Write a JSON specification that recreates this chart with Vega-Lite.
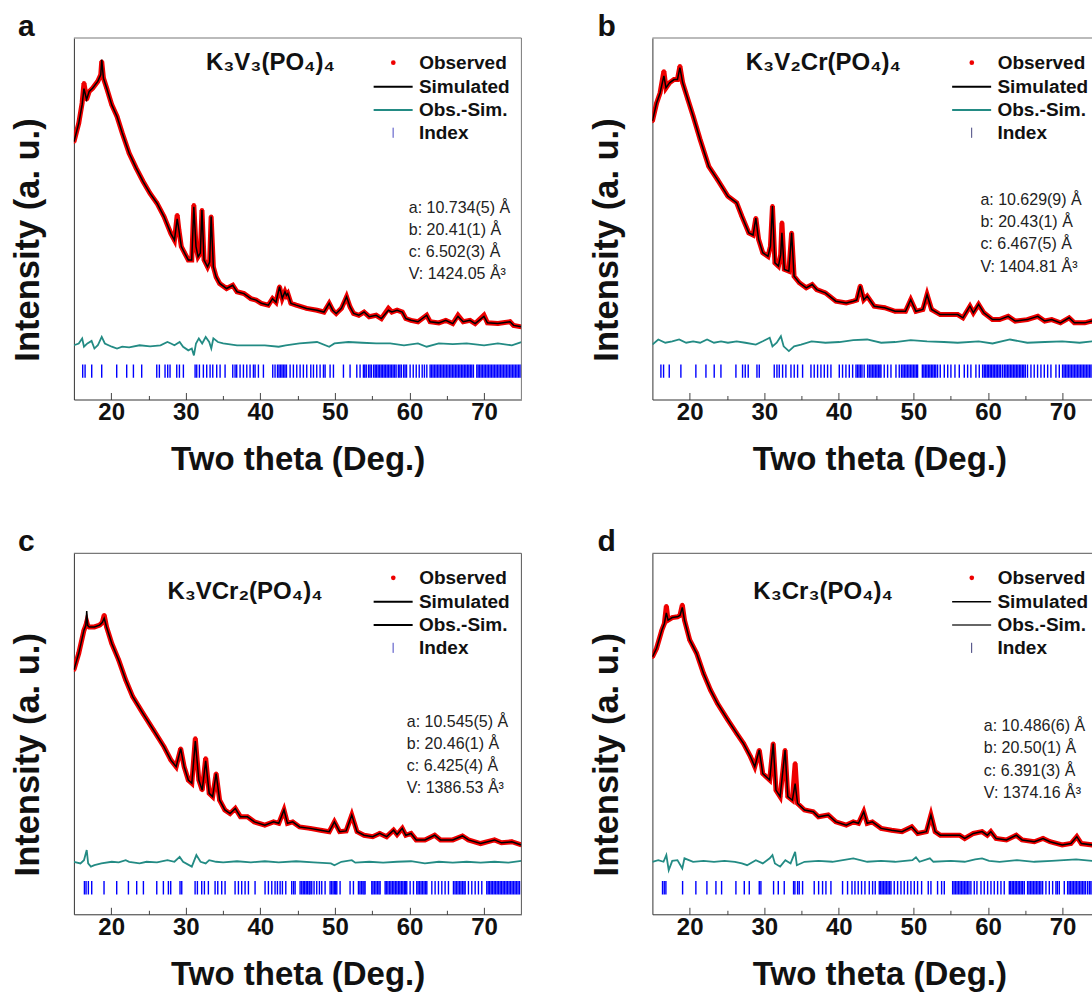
{
"$schema": "https://vega.github.io/schema/vega-lite/v6.json",
"background": "white",
"padding": {"left": 9.9, "top": 11, "right": 0, "bottom": 0},
"config": {"font": "Liberation Sans", "axis": {"grid": false}, "view": {"stroke": null}, "legend": {"labelFont": "Liberation Sans", "orient": "none", "title": null, "padding": 0, "labelFontSize": 19, "labelFontWeight": "bold", "labelColor": "#111111", "labelLimit": 300, "rowPadding": 3.3}},
"datasets": {
"a": [
{"t":15.0,"obs":71.3,"sim":71.3},{"t":15.65,"obs":76.4,"sim":76.4},{"t":16.1,"obs":82.0,"sim":81.5},{"t":16.35,"obs":87.5,"sim":86.0},{"t":16.7,"obs":83.0,"sim":83.0},{"t":17.05,"obs":85.2,"sim":85.2},{"t":17.5,"obs":86.1,"sim":86.1},{"t":18.2,"obs":88.0,"sim":88.0},{"t":18.6,"obs":89.8,"sim":89.8},{"t":18.73,"obs":93.5,"sim":94.0},{"t":18.96,"obs":88.9,"sim":88.9},{"t":19.4,"obs":86.1,"sim":86.1},{"t":20.08,"obs":81.5,"sim":81.5},{"t":20.78,"obs":78.3,"sim":78.3},{"t":21.48,"obs":73.7,"sim":73.7},{"t":22.41,"obs":68.1,"sim":68.1},{"t":23.35,"obs":64.0,"sim":64.0},{"t":24.28,"obs":60.3,"sim":60.3},{"t":25.21,"obs":57.0,"sim":57.0},{"t":26.14,"obs":54.3,"sim":54.3},{"t":27.08,"obs":50.6,"sim":50.6},{"t":28.01,"obs":45.9,"sim":45.9},{"t":28.48,"obs":44.1,"sim":44.1},{"t":28.85,"obs":51.0,"sim":50.0},{"t":29.08,"obs":46.9,"sim":46.9},{"t":29.4,"obs":42.3,"sim":42.3},{"t":29.87,"obs":40.4,"sim":40.4},{"t":30.34,"obs":38.6,"sim":38.6},{"t":30.8,"obs":38.6,"sim":38.6},{"t":31.08,"obs":53.8,"sim":53.3},{"t":31.37,"obs":42.3,"sim":42.3},{"t":31.65,"obs":39.5,"sim":39.5},{"t":31.95,"obs":40.5,"sim":40.5},{"t":32.17,"obs":52.4,"sim":52.4},{"t":32.45,"obs":38.6,"sim":38.6},{"t":32.92,"obs":36.7,"sim":36.7},{"t":33.2,"obs":38.0,"sim":38.0},{"t":33.4,"obs":50.6,"sim":50.6},{"t":33.7,"obs":36.7,"sim":36.7},{"t":34.07,"obs":33.9,"sim":33.9},{"t":34.54,"obs":32.1,"sim":32.1},{"t":35.47,"obs":30.7,"sim":30.7},{"t":36.3,"obs":31.6,"sim":31.6},{"t":36.87,"obs":29.8,"sim":29.8},{"t":37.8,"obs":29.3,"sim":29.3},{"t":38.73,"obs":27.9,"sim":27.9},{"t":39.43,"obs":27.5,"sim":27.5},{"t":40.13,"obs":26.6,"sim":26.6},{"t":41.07,"obs":26.1,"sim":26.1},{"t":41.63,"obs":27.9,"sim":27.9},{"t":42.1,"obs":26.9,"sim":26.9},{"t":42.57,"obs":31.2,"sim":31.2},{"t":42.94,"obs":28.0,"sim":28.0},{"t":43.3,"obs":29.8,"sim":29.8},{"t":43.5,"obs":28.8,"sim":28.8},{"t":43.68,"obs":29.3,"sim":29.3},{"t":44.1,"obs":26.6,"sim":26.6},{"t":44.8,"obs":26.1,"sim":26.1},{"t":46.2,"obs":25.2,"sim":25.2},{"t":47.6,"obs":24.7,"sim":24.7},{"t":48.53,"obs":24.2,"sim":24.2},{"t":49.23,"obs":26.6,"sim":26.6},{"t":49.7,"obs":24.7,"sim":24.7},{"t":50.17,"obs":23.8,"sim":23.8},{"t":50.87,"obs":25.2,"sim":25.2},{"t":51.56,"obs":28.4,"sim":28.4},{"t":52.03,"obs":25.6,"sim":25.6},{"t":52.5,"obs":23.8,"sim":23.8},{"t":53.2,"obs":23.3,"sim":23.3},{"t":53.9,"obs":24.2,"sim":24.2},{"t":54.6,"obs":22.9,"sim":22.9},{"t":55.53,"obs":23.3,"sim":23.3},{"t":56.23,"obs":22.4,"sim":22.4},{"t":57.17,"obs":25.2,"sim":24.7},{"t":57.63,"obs":24.2,"sim":24.2},{"t":58.33,"obs":24.7,"sim":24.7},{"t":59.03,"obs":24.2,"sim":24.2},{"t":59.5,"obs":22.4,"sim":22.4},{"t":60.2,"obs":21.9,"sim":21.9},{"t":61.13,"obs":21.5,"sim":21.5},{"t":62.3,"obs":23.3,"sim":23.3},{"t":62.76,"obs":21.5,"sim":21.5},{"t":63.93,"obs":21.2,"sim":21.2},{"t":64.86,"obs":21.9,"sim":21.9},{"t":65.8,"obs":21.0,"sim":21.0},{"t":66.5,"obs":23.3,"sim":23.0},{"t":67.2,"obs":21.5,"sim":21.5},{"t":68.1,"obs":21.9,"sim":21.9},{"t":68.8,"obs":21.0,"sim":21.0},{"t":69.98,"obs":23.3,"sim":23.0},{"t":70.45,"obs":21.2,"sim":21.2},{"t":71.85,"obs":21.0,"sim":21.0},{"t":73.48,"obs":21.5,"sim":21.5},{"t":73.95,"obs":20.5,"sim":20.5},{"t":75.0,"obs":20.1,"sim":20.1}
],
"a_d": [
{"t":15.0,"d":15.0},{"t":15.65,"d":15.5},{"t":16.11,"d":16.9},{"t":16.35,"d":14.6},{"t":16.81,"d":15.5},{"t":17.37,"d":16.2},{"t":17.75,"d":14.1},{"t":18.21,"d":15.0},{"t":18.73,"d":17.3},{"t":19.15,"d":15.5},{"t":20.08,"d":14.6},{"t":20.78,"d":14.1},{"t":21.48,"d":14.6},{"t":22.41,"d":14.4},{"t":23.81,"d":15.0},{"t":25.21,"d":14.7},{"t":26.61,"d":15.0},{"t":27.54,"d":15.9},{"t":28.01,"d":15.5},{"t":28.48,"d":15.0},{"t":29.18,"d":15.9},{"t":29.64,"d":14.6},{"t":30.34,"d":13.6},{"t":30.81,"d":14.1},{"t":31.09,"d":12.2},{"t":31.37,"d":15.5},{"t":31.75,"d":16.9},{"t":32.2,"d":15.5},{"t":32.67,"d":17.3},{"t":33.14,"d":15.9},{"t":33.42,"d":14.1},{"t":33.7,"d":16.9},{"t":34.31,"d":15.9},{"t":35.01,"d":15.5},{"t":36.87,"d":15.0},{"t":38.73,"d":15.0},{"t":40.6,"d":15.0},{"t":42.46,"d":14.6},{"t":43.4,"d":15.0},{"t":45.26,"d":15.5},{"t":47.6,"d":15.9},{"t":49.23,"d":14.6},{"t":49.93,"d":15.5},{"t":51.8,"d":15.9},{"t":53.66,"d":15.7},{"t":55.53,"d":15.5},{"t":57.4,"d":15.5},{"t":59.26,"d":15.0},{"t":61.13,"d":15.5},{"t":62.3,"d":14.6},{"t":63.93,"d":15.5},{"t":65.8,"d":15.3},{"t":67.66,"d":15.5},{"t":70.0,"d":15.0},{"t":71.85,"d":15.5},{"t":73.72,"d":15.0},{"t":75.0,"d":15.9}
],
"a_i": [
{"t":16.18},{"t":16.5},{"t":17.39},{"t":18.73},{"t":20.74},{"t":22.08},{"t":22.98},{"t":24.09},{"t":26.11},{"t":26.46},{"t":27.22},{"t":27.58},{"t":27.89},{"t":28.79},{"t":29.15},{"t":29.68},{"t":31.25},{"t":31.47},{"t":31.83},{"t":32.36},{"t":32.81},{"t":33.26},{"t":33.62},{"t":34.15},{"t":34.6},{"t":35.27},{"t":36.3},{"t":36.61},{"t":36.83},{"t":37.28},{"t":37.73},{"t":38.18},{"t":38.62},{"t":39.07},{"t":39.29},{"t":39.74},{"t":40.41},{"t":41.66},{"t":41.97},{"t":42.3},{"t":42.5},{"t":42.7},{"t":42.9},{"t":43.1},{"t":43.3},{"t":43.5},{"t":43.99},{"t":44.43},{"t":44.88},{"t":45.33},{"t":45.77},{"t":46.22},{"t":46.76},{"t":47.12},{"t":47.56},{"t":48.01},{"t":48.46},{"t":48.68},{"t":49.35},{"t":49.8},{"t":51.14},{"t":52.03},{"t":52.93},{"t":53.37},{"t":53.82},{"t":54.0},{"t":54.2},{"t":54.5},{"t":54.7},{"t":54.9},{"t":55.2},{"t":55.4},{"t":55.6},{"t":55.8},{"t":56.0},{"t":56.2},{"t":56.4},{"t":56.6},{"t":56.8},{"t":57.0},{"t":57.2},{"t":57.4},{"t":57.6},{"t":57.8},{"t":58.0},{"t":58.2},{"t":58.5},{"t":58.7},{"t":58.9},{"t":59.2},{"t":59.4},{"t":59.6},{"t":60.08},{"t":60.5},{"t":60.9},{"t":61.3},{"t":61.7},{"t":62.0},{"t":62.32},{"t":62.76},{"t":62.95},{"t":63.15},{"t":63.35},{"t":63.55},{"t":63.75},{"t":63.95},{"t":64.15},{"t":64.35},{"t":64.55},{"t":64.75},{"t":64.95},{"t":65.15},{"t":65.35},{"t":65.55},{"t":65.75},{"t":65.95},{"t":66.15},{"t":66.35},{"t":66.55},{"t":66.75},{"t":66.95},{"t":67.15},{"t":67.35},{"t":67.55},{"t":67.75},{"t":67.95},{"t":68.15},{"t":68.35},{"t":68.57},{"t":69.02},{"t":69.2},{"t":69.4},{"t":69.6},{"t":69.8},{"t":70.0},{"t":70.2},{"t":70.4},{"t":70.6},{"t":70.8},{"t":71.0},{"t":71.2},{"t":71.4},{"t":71.6},{"t":71.8},{"t":72.0},{"t":72.2},{"t":72.4},{"t":72.6},{"t":72.8},{"t":73.0},{"t":73.2},{"t":73.4},{"t":73.6},{"t":73.8},{"t":74.0},{"t":74.2},{"t":74.4},{"t":74.6},{"t":74.8},{"t":75.0}
],
"b": [
{"t":15.0,"obs":77.0,"sim":77.0},{"t":15.56,"obs":82.0,"sim":82.0},{"t":16.03,"obs":84.8,"sim":84.8},{"t":16.54,"obs":90.8,"sim":89.5},{"t":16.82,"obs":86.2,"sim":86.2},{"t":17.29,"obs":87.6,"sim":87.6},{"t":17.9,"obs":88.5,"sim":88.5},{"t":18.36,"obs":88.5,"sim":88.5},{"t":18.69,"obs":92.2,"sim":91.8},{"t":19.06,"obs":87.6,"sim":87.6},{"t":19.76,"obs":83.0,"sim":83.0},{"t":20.46,"obs":78.4,"sim":78.4},{"t":21.4,"obs":71.9,"sim":71.9},{"t":22.56,"obs":64.5,"sim":64.5},{"t":23.73,"obs":60.8,"sim":60.8},{"t":25.13,"obs":56.2,"sim":56.2},{"t":26.3,"obs":54.4,"sim":54.4},{"t":27.0,"obs":50.7,"sim":50.7},{"t":27.93,"obs":46.1,"sim":46.1},{"t":28.5,"obs":45.5,"sim":45.5},{"t":28.87,"obs":50.2,"sim":50.2},{"t":29.24,"obs":44.3,"sim":44.3},{"t":29.8,"obs":40.6,"sim":40.6},{"t":30.5,"obs":39.6,"sim":39.6},{"t":30.83,"obs":42.4,"sim":42.4},{"t":31.1,"obs":53.5,"sim":53.5},{"t":31.43,"obs":37.8,"sim":37.8},{"t":31.9,"obs":36.9,"sim":36.9},{"t":32.2,"obs":40.0,"sim":40.0},{"t":32.37,"obs":48.9,"sim":46.1},{"t":32.69,"obs":36.0,"sim":36.0},{"t":33.3,"obs":35.5,"sim":35.5},{"t":33.67,"obs":46.1,"sim":46.1},{"t":34.0,"obs":34.1,"sim":34.1},{"t":34.7,"obs":32.3,"sim":32.3},{"t":35.63,"obs":30.9,"sim":30.9},{"t":36.43,"obs":31.8,"sim":31.8},{"t":37.04,"obs":30.4,"sim":30.4},{"t":38.2,"obs":29.5,"sim":29.5},{"t":39.6,"obs":27.2,"sim":27.2},{"t":41.0,"obs":26.7,"sim":26.7},{"t":41.94,"obs":27.2,"sim":27.2},{"t":42.4,"obs":27.5,"sim":27.5},{"t":42.87,"obs":31.4,"sim":31.4},{"t":43.34,"obs":27.6,"sim":27.6},{"t":43.8,"obs":28.6,"sim":28.6},{"t":44.74,"obs":25.8,"sim":25.8},{"t":46.14,"obs":25.4,"sim":25.4},{"t":47.54,"obs":24.4,"sim":24.4},{"t":48.94,"obs":24.4,"sim":24.4},{"t":49.64,"obs":27.6,"sim":27.6},{"t":50.34,"obs":24.4,"sim":24.4},{"t":51.27,"obs":24.9,"sim":24.9},{"t":51.83,"obs":29.0,"sim":29.0},{"t":52.44,"obs":24.9,"sim":24.9},{"t":53.6,"obs":23.5,"sim":23.5},{"t":55.0,"obs":23.5,"sim":23.5},{"t":55.94,"obs":23.5,"sim":23.5},{"t":56.64,"obs":22.6,"sim":22.6},{"t":57.58,"obs":25.8,"sim":25.8},{"t":58.04,"obs":24.0,"sim":24.0},{"t":58.74,"obs":26.3,"sim":26.3},{"t":59.44,"obs":24.0,"sim":24.0},{"t":60.61,"obs":22.1,"sim":22.1},{"t":61.54,"obs":22.1,"sim":22.1},{"t":62.71,"obs":23.0,"sim":23.0},{"t":63.65,"obs":21.7,"sim":21.7},{"t":65.28,"obs":22.1,"sim":22.1},{"t":66.68,"obs":23.0,"sim":23.0},{"t":67.61,"obs":21.7,"sim":21.7},{"t":68.55,"obs":22.1,"sim":22.1},{"t":69.72,"obs":21.2,"sim":21.2},{"t":70.88,"obs":22.6,"sim":22.6},{"t":71.58,"obs":21.2,"sim":21.2},{"t":72.98,"obs":21.2,"sim":21.2},{"t":73.92,"obs":21.7,"sim":21.7},{"t":75.0,"obs":21.3,"sim":21.3}
],
"b_d": [
{"t":15.0,"d":15.2},{"t":15.79,"d":16.6},{"t":16.73,"d":15.7},{"t":17.66,"d":16.1},{"t":18.59,"d":16.6},{"t":19.53,"d":15.7},{"t":20.46,"d":16.1},{"t":21.4,"d":15.7},{"t":22.33,"d":16.6},{"t":23.26,"d":15.7},{"t":24.2,"d":16.1},{"t":25.13,"d":15.7},{"t":26.3,"d":16.1},{"t":27.46,"d":15.7},{"t":28.87,"d":15.2},{"t":29.8,"d":16.1},{"t":30.73,"d":17.1},{"t":31.1,"d":14.7},{"t":31.67,"d":15.7},{"t":32.23,"d":17.5},{"t":32.6,"d":14.7},{"t":33.3,"d":13.4},{"t":34.0,"d":14.7},{"t":34.93,"d":15.2},{"t":36.34,"d":16.1},{"t":38.2,"d":15.7},{"t":40.07,"d":15.9},{"t":41.94,"d":16.4},{"t":43.8,"d":16.6},{"t":45.67,"d":15.7},{"t":47.54,"d":15.9},{"t":49.64,"d":16.4},{"t":51.83,"d":16.1},{"t":54.08,"d":15.9},{"t":55.94,"d":15.7},{"t":58.74,"d":16.1},{"t":60.61,"d":15.5},{"t":62.95,"d":16.6},{"t":65.28,"d":15.7},{"t":67.61,"d":15.9},{"t":69.95,"d":16.1},{"t":72.28,"d":15.7},{"t":74.06,"d":16.1}
],
"b_i": [
{"t":16.14},{"t":16.5},{"t":17.26},{"t":18.82},{"t":20.83},{"t":22.18},{"t":23.29},{"t":24.19},{"t":26.2},{"t":27.09},{"t":27.45},{"t":27.85},{"t":29.02},{"t":29.33},{"t":31.34},{"t":31.7},{"t":32.01},{"t":32.46},{"t":32.9},{"t":33.58},{"t":34.02},{"t":34.47},{"t":35.14},{"t":36.26},{"t":36.7},{"t":37.15},{"t":37.6},{"t":38.05},{"t":38.49},{"t":38.94},{"t":40.06},{"t":40.5},{"t":40.95},{"t":41.4},{"t":41.85},{"t":42.3},{"t":42.5},{"t":42.7},{"t":42.9},{"t":43.1},{"t":43.4},{"t":43.86},{"t":44.08},{"t":44.3},{"t":44.5},{"t":44.7},{"t":44.9},{"t":45.1},{"t":45.3},{"t":45.5},{"t":45.65},{"t":46.09},{"t":46.54},{"t":46.99},{"t":47.66},{"t":48.1},{"t":48.4},{"t":48.6},{"t":48.8},{"t":49.0},{"t":49.2},{"t":49.4},{"t":49.6},{"t":49.8},{"t":50.0},{"t":50.2},{"t":50.4},{"t":50.56},{"t":51.2},{"t":51.4},{"t":51.6},{"t":51.8},{"t":52.0},{"t":52.2},{"t":52.4},{"t":52.6},{"t":52.8},{"t":53.0},{"t":53.24},{"t":53.6},{"t":54.14},{"t":54.6},{"t":55.03},{"t":55.57},{"t":56.15},{"t":56.82},{"t":57.27},{"t":57.71},{"t":58.38},{"t":58.83},{"t":59.28},{"t":59.5},{"t":59.7},{"t":59.9},{"t":60.1},{"t":60.3},{"t":60.5},{"t":60.7},{"t":60.9},{"t":61.1},{"t":61.3},{"t":61.5},{"t":61.7},{"t":61.96},{"t":62.2},{"t":62.4},{"t":62.6},{"t":62.8},{"t":63.0},{"t":63.2},{"t":63.4},{"t":63.6},{"t":63.8},{"t":64.0},{"t":64.2},{"t":64.4},{"t":64.6},{"t":64.8},{"t":65.0},{"t":65.3},{"t":65.76},{"t":66.2},{"t":66.65},{"t":67.1},{"t":67.55},{"t":68.0},{"t":68.44},{"t":69.11},{"t":69.56},{"t":70.0},{"t":70.2},{"t":70.4},{"t":70.6},{"t":70.8},{"t":71.0},{"t":71.2},{"t":71.4},{"t":71.6},{"t":71.8},{"t":72.0},{"t":72.2},{"t":72.4},{"t":72.6},{"t":72.8},{"t":73.0},{"t":73.2},{"t":73.4},{"t":73.6},{"t":73.8},{"t":74.0}
],
"c": [
{"t":15.0,"obs":67.7,"sim":67.7},{"t":15.65,"obs":72.3,"sim":72.3},{"t":16.35,"obs":78.7,"sim":78.7},{"t":16.6,"obs":80.0,"sim":80.0},{"t":16.72,"obs":81.0,"sim":84.0},{"t":16.85,"obs":80.0,"sim":80.0},{"t":17.05,"obs":79.6,"sim":79.6},{"t":17.75,"obs":79.6,"sim":79.6},{"t":18.45,"obs":80.1,"sim":80.1},{"t":18.8,"obs":80.8,"sim":80.8},{"t":19.06,"obs":82.9,"sim":82.0},{"t":19.38,"obs":79.6,"sim":79.6},{"t":20.08,"obs":75.0,"sim":75.0},{"t":21.01,"obs":70.4,"sim":70.4},{"t":21.95,"obs":64.9,"sim":64.9},{"t":22.88,"obs":60.3,"sim":60.3},{"t":24.28,"obs":55.6,"sim":55.6},{"t":25.68,"obs":51.0,"sim":51.0},{"t":27.08,"obs":46.4,"sim":46.4},{"t":28.01,"obs":42.7,"sim":42.7},{"t":28.71,"obs":40.9,"sim":40.9},{"t":29.32,"obs":45.9,"sim":45.9},{"t":29.78,"obs":40.9,"sim":40.9},{"t":30.34,"obs":37.2,"sim":37.2},{"t":30.81,"obs":36.3,"sim":36.3},{"t":31.28,"obs":48.7,"sim":48.0},{"t":31.75,"obs":37.2,"sim":37.2},{"t":32.2,"obs":34.4,"sim":34.4},{"t":32.67,"obs":43.2,"sim":42.5},{"t":33.14,"obs":33.5,"sim":33.5},{"t":33.6,"obs":32.6,"sim":32.6},{"t":34.07,"obs":39.0,"sim":39.0},{"t":34.54,"obs":31.6,"sim":31.6},{"t":35.24,"obs":28.9,"sim":28.9},{"t":35.94,"obs":27.9,"sim":27.9},{"t":36.64,"obs":29.3,"sim":29.3},{"t":37.34,"obs":27.0,"sim":27.0},{"t":38.27,"obs":27.0,"sim":27.0},{"t":39.2,"obs":25.6,"sim":25.6},{"t":40.6,"obs":24.7,"sim":24.7},{"t":41.77,"obs":25.6,"sim":25.6},{"t":42.47,"obs":25.2,"sim":25.2},{"t":43.17,"obs":28.9,"sim":28.9},{"t":43.64,"obs":25.2,"sim":25.2},{"t":44.34,"obs":25.6,"sim":25.6},{"t":45.27,"obs":24.2,"sim":24.2},{"t":46.67,"obs":23.8,"sim":23.8},{"t":48.07,"obs":23.3,"sim":23.3},{"t":49.23,"obs":22.9,"sim":22.9},{"t":49.93,"obs":25.6,"sim":25.6},{"t":50.63,"obs":22.9,"sim":22.9},{"t":51.5,"obs":23.1,"sim":23.1},{"t":52.26,"obs":27.5,"sim":27.5},{"t":52.96,"obs":22.9,"sim":22.9},{"t":53.9,"obs":21.9,"sim":21.9},{"t":55.06,"obs":21.5,"sim":21.5},{"t":56.0,"obs":22.4,"sim":22.4},{"t":56.93,"obs":21.5,"sim":21.5},{"t":57.86,"obs":23.3,"sim":23.3},{"t":58.33,"obs":22.1,"sim":22.1},{"t":59.03,"obs":23.8,"sim":23.8},{"t":59.5,"obs":21.9,"sim":21.9},{"t":60.2,"obs":22.4,"sim":22.4},{"t":60.9,"obs":20.6,"sim":20.6},{"t":62.07,"obs":20.6,"sim":20.6},{"t":63.37,"obs":21.9,"sim":21.9},{"t":64.16,"obs":20.6,"sim":20.6},{"t":65.8,"obs":20.6,"sim":20.6},{"t":67.1,"obs":21.7,"sim":21.7},{"t":67.9,"obs":20.6,"sim":20.6},{"t":69.53,"obs":19.6,"sim":19.6},{"t":71.4,"obs":20.6,"sim":20.6},{"t":72.33,"obs":19.8,"sim":19.8},{"t":73.72,"obs":20.1,"sim":20.1},{"t":75.0,"obs":19.2,"sim":19.2}
],
"c_d": [
{"t":15.0,"d":14.55},{"t":15.88,"d":14.1},{"t":16.35,"d":15.0},{"t":16.72,"d":17.8},{"t":16.91,"d":14.1},{"t":17.28,"d":13.2},{"t":17.75,"d":13.6},{"t":18.68,"d":14.1},{"t":20.08,"d":14.55},{"t":21.01,"d":14.4},{"t":21.95,"d":15.0},{"t":22.41,"d":14.55},{"t":23.81,"d":14.1},{"t":24.74,"d":14.55},{"t":26.14,"d":14.4},{"t":27.54,"d":15.0},{"t":28.48,"d":14.55},{"t":29.18,"d":15.9},{"t":29.64,"d":14.55},{"t":30.81,"d":13.2},{"t":31.42,"d":16.4},{"t":31.98,"d":14.55},{"t":32.67,"d":14.1},{"t":33.14,"d":15.0},{"t":34.07,"d":14.55},{"t":35.01,"d":14.4},{"t":36.87,"d":14.7},{"t":38.73,"d":14.4},{"t":40.6,"d":14.7},{"t":42.46,"d":14.4},{"t":44.8,"d":14.7},{"t":47.13,"d":14.4},{"t":49.46,"d":14.1},{"t":49.93,"d":13.6},{"t":50.86,"d":14.55},{"t":52.26,"d":15.0},{"t":52.73,"d":14.3},{"t":54.6,"d":14.55},{"t":56.46,"d":14.3},{"t":58.33,"d":14.55},{"t":60.2,"d":14.7},{"t":62.06,"d":14.1},{"t":63.93,"d":14.55},{"t":65.8,"d":14.3},{"t":67.66,"d":14.55},{"t":69.53,"d":14.3},{"t":71.39,"d":14.55},{"t":73.26,"d":14.3},{"t":75.0,"d":14.8}
],
"c_i": [
{"t":16.41},{"t":16.63},{"t":16.94},{"t":17.39},{"t":19.04},{"t":20.74},{"t":22.31},{"t":23.42},{"t":24.32},{"t":26.11},{"t":27.0},{"t":27.67},{"t":27.98},{"t":29.23},{"t":29.46},{"t":31.25},{"t":31.56},{"t":32.14},{"t":32.5},{"t":33.03},{"t":33.93},{"t":34.29},{"t":34.82},{"t":35.27},{"t":36.61},{"t":37.06},{"t":37.5},{"t":37.95},{"t":38.4},{"t":39.29},{"t":40.63},{"t":41.08},{"t":41.53},{"t":41.97},{"t":42.29},{"t":42.65},{"t":42.96},{"t":43.41},{"t":44.2},{"t":44.45},{"t":44.66},{"t":45.33},{"t":45.55},{"t":45.75},{"t":45.95},{"t":46.15},{"t":46.35},{"t":46.55},{"t":46.67},{"t":46.89},{"t":47.2},{"t":47.56},{"t":47.92},{"t":48.23},{"t":48.68},{"t":49.35},{"t":49.55},{"t":49.75},{"t":49.95},{"t":50.1},{"t":50.25},{"t":50.69},{"t":52.03},{"t":52.48},{"t":53.15},{"t":53.35},{"t":53.55},{"t":53.75},{"t":53.9},{"t":54.04},{"t":54.94},{"t":55.1},{"t":55.3},{"t":55.5},{"t":55.7},{"t":55.9},{"t":56.06},{"t":56.73},{"t":56.9},{"t":57.1},{"t":57.3},{"t":57.5},{"t":57.7},{"t":57.9},{"t":58.1},{"t":58.3},{"t":58.5},{"t":58.7},{"t":58.9},{"t":59.1},{"t":59.3},{"t":59.45},{"t":59.63},{"t":60.08},{"t":60.53},{"t":60.97},{"t":61.15},{"t":61.35},{"t":61.55},{"t":61.75},{"t":61.95},{"t":62.15},{"t":62.32},{"t":62.99},{"t":63.43},{"t":63.88},{"t":64.33},{"t":64.77},{"t":65.22},{"t":65.89},{"t":66.1},{"t":66.3},{"t":66.5},{"t":66.7},{"t":66.9},{"t":67.1},{"t":67.3},{"t":67.46},{"t":67.9},{"t":68.35},{"t":68.8},{"t":69.24},{"t":69.69},{"t":70.36},{"t":70.55},{"t":70.75},{"t":70.95},{"t":71.15},{"t":71.35},{"t":71.55},{"t":71.75},{"t":71.95},{"t":72.15},{"t":72.35},{"t":72.55},{"t":72.75},{"t":72.95},{"t":73.15},{"t":73.35},{"t":73.55},{"t":73.75},{"t":73.95},{"t":74.15},{"t":74.35},{"t":74.55},{"t":74.75}
],
"d": [
{"t":15.0,"obs":71.3,"sim":71.3},{"t":15.56,"obs":73.7,"sim":73.7},{"t":16.26,"obs":78.7,"sim":78.7},{"t":16.6,"obs":80.5,"sim":80.5},{"t":16.87,"obs":85.4,"sim":83.5},{"t":17.1,"obs":81.5,"sim":81.5},{"t":17.66,"obs":82.2,"sim":82.2},{"t":18.36,"obs":82.4,"sim":82.4},{"t":18.7,"obs":82.8,"sim":82.8},{"t":19.01,"obs":85.7,"sim":85.0},{"t":19.3,"obs":81.5,"sim":81.5},{"t":20.0,"obs":76.0,"sim":76.0},{"t":20.93,"obs":72.3,"sim":72.3},{"t":21.86,"obs":66.7,"sim":66.7},{"t":22.8,"obs":62.1,"sim":62.1},{"t":23.73,"obs":58.4,"sim":58.4},{"t":25.13,"obs":53.8,"sim":53.8},{"t":26.3,"obs":50.1,"sim":50.1},{"t":27.23,"obs":47.3,"sim":47.3},{"t":28.17,"obs":43.6,"sim":43.6},{"t":28.73,"obs":40.9,"sim":40.9},{"t":29.33,"obs":45.5,"sim":45.5},{"t":29.8,"obs":39.0,"sim":39.0},{"t":30.73,"obs":37.2,"sim":37.2},{"t":31.2,"obs":47.3,"sim":47.3},{"t":31.57,"obs":34.4,"sim":34.4},{"t":32.13,"obs":32.6,"sim":32.6},{"t":32.79,"obs":45.5,"sim":45.5},{"t":33.16,"obs":32.6,"sim":32.6},{"t":33.77,"obs":31.6,"sim":31.6},{"t":34.14,"obs":41.8,"sim":36.2},{"t":34.47,"obs":30.7,"sim":30.7},{"t":35.4,"obs":28.9,"sim":28.9},{"t":36.57,"obs":28.4,"sim":28.4},{"t":37.27,"obs":27.0,"sim":27.0},{"t":38.58,"obs":27.5,"sim":27.5},{"t":39.6,"obs":25.6,"sim":25.6},{"t":41.0,"obs":24.7,"sim":24.7},{"t":41.94,"obs":25.6,"sim":25.6},{"t":42.64,"obs":25.2,"sim":25.2},{"t":43.34,"obs":28.4,"sim":28.4},{"t":43.8,"obs":25.2,"sim":25.2},{"t":44.5,"obs":25.6,"sim":25.6},{"t":45.67,"obs":23.8,"sim":23.8},{"t":47.07,"obs":23.3,"sim":23.3},{"t":48.47,"obs":22.9,"sim":22.9},{"t":49.78,"obs":24.2,"sim":24.2},{"t":50.57,"obs":22.4,"sim":22.4},{"t":51.74,"obs":22.9,"sim":22.9},{"t":52.35,"obs":27.5,"sim":27.5},{"t":52.91,"obs":22.9,"sim":22.9},{"t":53.61,"obs":21.9,"sim":21.9},{"t":55.01,"obs":21.9,"sim":21.9},{"t":56.18,"obs":21.9,"sim":21.9},{"t":56.88,"obs":21.0,"sim":21.0},{"t":58.05,"obs":22.4,"sim":22.4},{"t":59.21,"obs":22.9,"sim":22.9},{"t":59.91,"obs":21.9,"sim":21.9},{"t":60.38,"obs":22.9,"sim":22.9},{"t":61.08,"obs":21.0,"sim":21.0},{"t":62.48,"obs":20.6,"sim":20.6},{"t":63.79,"obs":21.9,"sim":21.9},{"t":64.58,"obs":20.6,"sim":20.6},{"t":66.21,"obs":20.1,"sim":20.1},{"t":67.38,"obs":21.0,"sim":21.0},{"t":68.32,"obs":20.1,"sim":20.1},{"t":69.95,"obs":19.2,"sim":19.2},{"t":71.12,"obs":19.6,"sim":19.6},{"t":71.91,"obs":21.5,"sim":21.5},{"t":72.52,"obs":19.6,"sim":19.6},{"t":74.06,"obs":19.2,"sim":19.2},{"t":75.0,"obs":19.0,"sim":19.0}
],
"d_d": [
{"t":15.0,"d":14.55},{"t":15.79,"d":15.0},{"t":16.49,"d":14.55},{"t":16.87,"d":16.4},{"t":17.19,"d":12.2},{"t":17.66,"d":14.8},{"t":18.36,"d":15.0},{"t":19.01,"d":12.7},{"t":19.3,"d":15.5},{"t":20.46,"d":14.55},{"t":21.86,"d":14.8},{"t":23.26,"d":14.55},{"t":24.66,"d":14.8},{"t":26.06,"d":14.55},{"t":27.0,"d":14.1},{"t":27.7,"d":13.6},{"t":28.87,"d":15.0},{"t":29.8,"d":14.1},{"t":30.73,"d":15.5},{"t":31.1,"d":16.4},{"t":31.43,"d":14.1},{"t":32.13,"d":13.2},{"t":32.83,"d":15.0},{"t":33.53,"d":14.1},{"t":34.14,"d":17.3},{"t":34.37,"d":13.6},{"t":35.4,"d":14.55},{"t":37.27,"d":14.8},{"t":39.14,"d":14.55},{"t":41.94,"d":15.5},{"t":43.8,"d":14.55},{"t":45.67,"d":14.8},{"t":47.54,"d":14.55},{"t":49.87,"d":15.0},{"t":50.34,"d":15.8},{"t":50.81,"d":14.55},{"t":52.21,"d":15.5},{"t":52.68,"d":14.55},{"t":55.01,"d":14.8},{"t":56.88,"d":14.55},{"t":58.28,"d":15.2},{"t":59.21,"d":15.5},{"t":60.15,"d":14.8},{"t":61.55,"d":14.55},{"t":63.88,"d":15.0},{"t":66.21,"d":14.55},{"t":68.55,"d":14.8},{"t":71.82,"d":15.2},{"t":74.06,"d":14.8}
],
"d_i": [
{"t":16.36},{"t":16.59},{"t":16.81},{"t":19.05},{"t":20.83},{"t":22.31},{"t":23.52},{"t":24.28},{"t":26.2},{"t":27.32},{"t":27.99},{"t":29.33},{"t":29.55},{"t":31.25},{"t":31.88},{"t":32.68},{"t":33.93},{"t":34.11},{"t":34.47},{"t":34.69},{"t":35.14},{"t":36.7},{"t":37.29},{"t":37.82},{"t":38.27},{"t":38.94},{"t":40.5},{"t":41.17},{"t":41.76},{"t":42.16},{"t":42.6},{"t":43.05},{"t":43.5},{"t":44.08},{"t":44.53},{"t":44.88},{"t":45.42},{"t":45.6},{"t":45.8},{"t":46.0},{"t":46.2},{"t":46.4},{"t":46.6},{"t":46.8},{"t":46.99},{"t":47.43},{"t":47.88},{"t":48.33},{"t":48.77},{"t":49.22},{"t":49.67},{"t":50.12},{"t":50.56},{"t":51.1},{"t":51.99},{"t":52.35},{"t":53.24},{"t":53.78},{"t":54.14},{"t":55.26},{"t":55.45},{"t":55.65},{"t":55.85},{"t":56.05},{"t":56.25},{"t":56.45},{"t":56.65},{"t":56.85},{"t":57.05},{"t":57.25},{"t":57.45},{"t":57.71},{"t":58.16},{"t":58.52},{"t":59.06},{"t":59.5},{"t":59.95},{"t":60.4},{"t":60.84},{"t":61.29},{"t":61.74},{"t":62.18},{"t":62.86},{"t":63.05},{"t":63.25},{"t":63.45},{"t":63.65},{"t":63.85},{"t":64.05},{"t":64.25},{"t":64.45},{"t":64.65},{"t":64.87},{"t":65.31},{"t":65.5},{"t":65.7},{"t":65.9},{"t":66.1},{"t":66.3},{"t":66.5},{"t":66.7},{"t":66.9},{"t":67.1},{"t":67.33},{"t":67.77},{"t":68.22},{"t":68.67},{"t":69.11},{"t":69.3},{"t":69.56},{"t":70.23},{"t":70.68},{"t":70.88},{"t":71.08},{"t":71.28},{"t":71.48},{"t":71.68},{"t":71.88},{"t":72.08},{"t":72.28},{"t":72.48},{"t":72.68},{"t":72.88},{"t":73.08},{"t":73.36},{"t":73.6},{"t":73.8},{"t":74.0}
]
},
"columns": 2,
"spacing": {"row": 153.3, "column": 130.5},
"bounds": "flush",
"resolve": {"scale": {"x": "independent", "y": "independent", "fill": "independent", "stroke": "independent", "strokeDash": "independent"}, "axis": {"x": "independent", "y": "independent"}, "legend": {"fill": "independent", "stroke": "independent", "strokeDash": "independent"}},
"concat": [
{
"width": 447.5, "height": 361.5,
"title": {"text": "a", "anchor": "start", "frame": "group", "dx": -56, "dy": 31.5, "offset": 3.5, "baseline": "alphabetic", "fontSize": 30, "fontWeight": "bold", "color": "#111111"},
"layer": [
{"data": {"name": "a"}, "mark": {"type": "line", "color": "#ee0000", "strokeWidth": 5, "clip": true},
 "encoding": {
  "x": {"field": "t", "type": "quantitative", "scale": {"domain": [15, 75], "nice": false, "zero": false},
   "axis": {"values": [20,25,30,35,40,45,50,55,60,65,70], "labelExpr": "datum.value % 10 === 0 ? datum.label : ''", "tickSize": {"condition": {"test": "datum.value % 10 === 0", "value": -7}, "value": -4}, "tickColor": "#444444", "domainColor": "#333333", "labelFontSize": 24, "labelFontWeight": "bold", "labelColor": "#111111", "labelBaseline": "top", "labelPadding": 8, "title": "Two theta (Deg.)", "titleFontSize": 33, "titleFontWeight": "bold", "titleColor": "#111111", "titleBaseline": "alphabetic", "titleY": 70, "grid": false}},
  "y": {"field": "obs", "type": "quantitative", "scale": {"domain": [0, 100], "nice": false, "zero": false},
   "axis": {"title": "Intensity (a. u.)", "ticks": false, "labels": false, "domainColor": "#333333", "grid": false, "titleFontSize": 34.5, "titleFontWeight": "bold", "titleColor": "#111111", "titleAngle": -90, "titleBaseline": "alphabetic", "titleAlign": "center", "titleX": -35.2, "titleY": 201.5}}
 }},
{"data": {"name": "a"}, "mark": {"type": "point", "filled": true, "size": 18, "opacity": 1, "clip": true},
 "encoding": {"x": {"field": "t", "type": "quantitative"}, "y": {"field": "obs", "type": "quantitative"},
  "fill": {"datum": "Observed", "type": "nominal", "scale": {"domain": ["Observed"], "range": ["#ee0000"]},
   "legend": {"legendX": 309.9, "legendY": 15.2, "symbolType": "circle", "symbolSize": 22, "symbolStrokeWidth": 0, "labelOffset": 16.4}}}},
{"data": {"name": "a"}, "mark": {"type": "line", "strokeWidth": 1.5, "clip": true},
 "encoding": {"x": {"field": "t", "type": "quantitative"}, "y": {"field": "sim", "type": "quantitative"},
  "stroke": {"datum": "Simulated", "type": "nominal", "scale": {"domain": ["Simulated", "Obs.-Sim."], "range": ["#000000", "#238b84"]},
   "legend": {"legendX": 309.75, "legendY": 39.2, "symbolType": "M-3.9,0L3.9,0", "symbolSize": 100, "symbolStrokeWidth": 2, "labelOffset": 16.25}}}},
{"data": {"name": "a_d"}, "mark": {"type": "line", "strokeWidth": 1.8, "clip": true},
 "encoding": {"x": {"field": "t", "type": "quantitative"}, "y": {"field": "d", "type": "quantitative"}, "stroke": {"datum": "Obs.-Sim.", "type": "nominal"}}},
{"data": {"name": "a_i"}, "mark": {"type": "rule", "strokeWidth": 1.4, "color": "#0000ff", "clip": true},
 "encoding": {"x": {"field": "t", "type": "quantitative"}, "y": {"datum": 6.0}, "y2": {"datum": 9.7},
  "strokeDash": {"datum": "Index", "type": "nominal", "scale": {"domain": ["Index"], "range": [[1, 0]]},
   "legend": {"legendX": 309.75, "legendY": 85.2, "symbolType": "M0,-1L0,1", "symbolSize": 100, "symbolStrokeWidth": 1, "symbolStrokeColor": "#3333bb", "labelOffset": 16.25}}}},
{"data": {"values": [{}]}, "mark": {"type": "rule", "color": "#777777", "strokeWidth": 1}, "encoding": {"y": {"datum": 100}}},
{"data": {"values": [{}]}, "mark": {"type": "rule", "color": "#777777", "strokeWidth": 1}, "encoding": {"x": {"datum": 75}}},
{"data": {"values": [{"f": "K₃V₃(PO₄)₄"}]}, "mark": {"type": "text", "fontSize": 24, "fontWeight": "bold", "align": "center", "baseline": "alphabetic", "color": "#111111"},
 "encoding": {"x": {"datum": 41.35}, "y": {"datum": 91.1}, "text": {"field": "f"}}},
{"data": {"values": [{}]}, "mark": {"type": "text", "fontSize": 16, "align": "left", "baseline": "alphabetic", "lineHeight": 22.3, "color": "#222222"},
 "encoding": {"x": {"datum": 59.9}, "y": {"datum": 51.7}, "text": {"value": ["a: 10.734(5) Å", "b: 20.41(1) Å", "c: 6.502(3) Å", "V: 1424.05 Å³"]}}}
]
},
{
"width": 440, "height": 361.5,
"title": {"text": "b", "anchor": "start", "frame": "group", "dx": -55, "dy": 31.5, "offset": 3.5, "baseline": "alphabetic", "fontSize": 30, "fontWeight": "bold", "color": "#111111"},
"layer": [
{"data": {"name": "b"}, "mark": {"type": "line", "color": "#ee0000", "strokeWidth": 5, "clip": true},
 "encoding": {
  "x": {"field": "t", "type": "quantitative", "scale": {"domain": [15, 74], "nice": false, "zero": false},
   "axis": {"values": [20,25,30,35,40,45,50,55,60,65,70], "labelExpr": "datum.value % 10 === 0 ? datum.label : ''", "tickSize": {"condition": {"test": "datum.value % 10 === 0", "value": -7}, "value": -4}, "tickColor": "#444444", "domainColor": "#333333", "labelFontSize": 24, "labelFontWeight": "bold", "labelColor": "#111111", "labelBaseline": "top", "labelPadding": 8, "title": "Two theta (Deg.)", "titleFontSize": 33, "titleFontWeight": "bold", "titleColor": "#111111", "titleBaseline": "alphabetic", "titleY": 70, "titleX": 227, "grid": false}},
  "y": {"field": "obs", "type": "quantitative", "scale": {"domain": [0, 100], "nice": false, "zero": false},
   "axis": {"title": "Intensity (a. u.)", "ticks": false, "labels": false, "domainColor": "#333333", "grid": false, "titleFontSize": 34.5, "titleFontWeight": "bold", "titleColor": "#111111", "titleAngle": -90, "titleBaseline": "alphabetic", "titleAlign": "center", "titleX": -35, "titleY": 201.5}}
 }},
{"data": {"name": "b"}, "mark": {"type": "point", "filled": true, "size": 18, "opacity": 1, "clip": true},
 "encoding": {"x": {"field": "t", "type": "quantitative"}, "y": {"field": "obs", "type": "quantitative"},
  "fill": {"datum": "Observed", "type": "nominal", "scale": {"domain": ["Observed"], "range": ["#ee0000"]},
   "legend": {"legendX": 309.9, "legendY": 15.2, "symbolType": "circle", "symbolSize": 22, "symbolStrokeWidth": 0, "labelOffset": 16.4}}}},
{"data": {"name": "b"}, "mark": {"type": "line", "strokeWidth": 1.5, "clip": true},
 "encoding": {"x": {"field": "t", "type": "quantitative"}, "y": {"field": "sim", "type": "quantitative"},
  "stroke": {"datum": "Simulated", "type": "nominal", "scale": {"domain": ["Simulated", "Obs.-Sim."], "range": ["#000000", "#238b84"]},
   "legend": {"legendX": 309.75, "legendY": 39.2, "symbolType": "M-3.9,0L3.9,0", "symbolSize": 100, "symbolStrokeWidth": 2, "labelOffset": 16.25}}}},
{"data": {"name": "b_d"}, "mark": {"type": "line", "strokeWidth": 1.8, "clip": true},
 "encoding": {"x": {"field": "t", "type": "quantitative"}, "y": {"field": "d", "type": "quantitative"}, "stroke": {"datum": "Obs.-Sim.", "type": "nominal"}}},
{"data": {"name": "b_i"}, "mark": {"type": "rule", "strokeWidth": 1.4, "color": "#0000ff", "clip": true},
 "encoding": {"x": {"field": "t", "type": "quantitative"}, "y": {"datum": 6.0}, "y2": {"datum": 9.7},
  "strokeDash": {"datum": "Index", "type": "nominal", "scale": {"domain": ["Index"], "range": [[1, 0]]},
   "legend": {"legendX": 309.75, "legendY": 85.2, "symbolType": "M0,-1L0,1", "symbolSize": 100, "symbolStrokeWidth": 1, "symbolStrokeColor": "#222266", "labelOffset": 16.25}}}},
{"data": {"values": [{}]}, "mark": {"type": "rule", "color": "#777777", "strokeWidth": 1}, "encoding": {"y": {"datum": 100}}},
{"data": {"values": [{"f": "K₃V₂Cr(PO₄)₄"}]}, "mark": {"type": "text", "fontSize": 24, "fontWeight": "bold", "align": "center", "baseline": "alphabetic", "color": "#111111"},
 "encoding": {"x": {"datum": 37.93}, "y": {"datum": 91.1}, "text": {"field": "f"}}},
{"data": {"values": [{}]}, "mark": {"type": "text", "fontSize": 16, "align": "left", "baseline": "alphabetic", "lineHeight": 22.3, "color": "#222222", "clip": true},
 "encoding": {"x": {"datum": 58.98}, "y": {"datum": 53.9}, "text": {"value": ["a: 10.629(9) Å", "b: 20.43(1) Å", "c: 6.467(5) Å", "V: 1404.81 Å³"]}}}
]
},
{
"width": 447.5, "height": 361,
"title": {"text": "c", "anchor": "start", "frame": "group", "dx": -56, "dy": 31.5, "offset": 3.3, "baseline": "alphabetic", "fontSize": 30, "fontWeight": "bold", "color": "#111111"},
"layer": [
{"data": {"name": "c"}, "mark": {"type": "line", "color": "#ee0000", "strokeWidth": 5, "clip": true},
 "encoding": {
  "x": {"field": "t", "type": "quantitative", "scale": {"domain": [15, 75], "nice": false, "zero": false},
   "axis": {"values": [20,25,30,35,40,45,50,55,60,65,70], "labelExpr": "datum.value % 10 === 0 ? datum.label : ''", "tickSize": {"condition": {"test": "datum.value % 10 === 0", "value": -7}, "value": -4}, "tickColor": "#444444", "domainColor": "#333333", "labelFontSize": 24, "labelFontWeight": "bold", "labelColor": "#111111", "labelBaseline": "top", "labelPadding": 8, "title": "Two theta (Deg.)", "titleFontSize": 33, "titleFontWeight": "bold", "titleColor": "#111111", "titleBaseline": "alphabetic", "titleY": 70, "grid": false}},
  "y": {"field": "obs", "type": "quantitative", "scale": {"domain": [0, 100], "nice": false, "zero": false},
   "axis": {"title": "Intensity (a. u.)", "ticks": false, "labels": false, "domainColor": "#333333", "grid": false, "titleFontSize": 34.5, "titleFontWeight": "bold", "titleColor": "#111111", "titleAngle": -90, "titleBaseline": "alphabetic", "titleAlign": "center", "titleX": -35.2, "titleY": 201}}
 }},
{"data": {"name": "c"}, "mark": {"type": "point", "filled": true, "size": 18, "opacity": 1, "clip": true},
 "encoding": {"x": {"field": "t", "type": "quantitative"}, "y": {"field": "obs", "type": "quantitative"},
  "fill": {"datum": "Observed", "type": "nominal", "scale": {"domain": ["Observed"], "range": ["#ee0000"]},
   "legend": {"legendX": 309.9, "legendY": 15, "symbolType": "circle", "symbolSize": 22, "symbolStrokeWidth": 0, "labelOffset": 16.4}}}},
{"data": {"name": "c"}, "mark": {"type": "line", "strokeWidth": 1.5, "clip": true},
 "encoding": {"x": {"field": "t", "type": "quantitative"}, "y": {"field": "sim", "type": "quantitative"},
  "stroke": {"datum": "Simulated", "type": "nominal", "scale": {"domain": ["Simulated", "Obs.-Sim."], "range": ["#000000", "#000000"]},
   "legend": {"legendX": 309.75, "legendY": 39, "symbolType": "M-3.9,0L3.9,0", "symbolSize": 100, "symbolStrokeWidth": 2, "labelOffset": 16.25}}}},
{"data": {"name": "c_d"}, "mark": {"type": "line", "strokeWidth": 1.8, "color": "#238b84", "clip": true},
 "encoding": {"x": {"field": "t", "type": "quantitative"}, "y": {"field": "d", "type": "quantitative"}}},
{"data": {"name": "c_i"}, "mark": {"type": "rule", "strokeWidth": 1.4, "color": "#0000ff", "clip": true},
 "encoding": {"x": {"field": "t", "type": "quantitative"}, "y": {"datum": 5.5}, "y2": {"datum": 9.2},
  "strokeDash": {"datum": "Index", "type": "nominal", "scale": {"domain": ["Index"], "range": [[1, 0]]},
   "legend": {"legendX": 309.75, "legendY": 85, "symbolType": "M0,-1L0,1", "symbolSize": 100, "symbolStrokeWidth": 1, "symbolStrokeColor": "#3333bb", "labelOffset": 16.25}}}},
{"data": {"values": [{}]}, "mark": {"type": "rule", "color": "#555555", "strokeWidth": 1}, "encoding": {"y": {"datum": 100}}},
{"data": {"values": [{}]}, "mark": {"type": "rule", "color": "#555555", "strokeWidth": 1}, "encoding": {"x": {"datum": 75}}},
{"data": {"values": [{"f": "K₃VCr₂(PO₄)₄"}]}, "mark": {"type": "text", "fontSize": 24, "fontWeight": "bold", "align": "center", "baseline": "alphabetic", "color": "#111111"},
 "encoding": {"x": {"datum": 37.94}, "y": {"datum": 87.3}, "text": {"field": "f"}}},
{"data": {"values": [{}]}, "mark": {"type": "text", "fontSize": 16, "align": "left", "baseline": "alphabetic", "lineHeight": 22.3, "color": "#222222"},
 "encoding": {"x": {"datum": 59.63}, "y": {"datum": 52.0}, "text": {"value": ["a: 10.545(5) Å", "b: 20.46(1) Å", "c: 6.425(4) Å", "V: 1386.53 Å³"]}}}
]
},
{
"width": 440, "height": 361,
"title": {"text": "d", "anchor": "start", "frame": "group", "dx": -55, "dy": 31.5, "offset": 3.3, "baseline": "alphabetic", "fontSize": 30, "fontWeight": "bold", "color": "#111111"},
"layer": [
{"data": {"name": "d"}, "mark": {"type": "line", "color": "#ee0000", "strokeWidth": 5, "clip": true},
 "encoding": {
  "x": {"field": "t", "type": "quantitative", "scale": {"domain": [15, 74], "nice": false, "zero": false},
   "axis": {"values": [20,25,30,35,40,45,50,55,60,65,70], "labelExpr": "datum.value % 10 === 0 ? datum.label : ''", "tickSize": {"condition": {"test": "datum.value % 10 === 0", "value": -7}, "value": -4}, "tickColor": "#444444", "domainColor": "#333333", "labelFontSize": 24, "labelFontWeight": "bold", "labelColor": "#111111", "labelBaseline": "top", "labelPadding": 8, "title": "Two theta (Deg.)", "titleFontSize": 33, "titleFontWeight": "bold", "titleColor": "#111111", "titleBaseline": "alphabetic", "titleY": 70, "titleX": 227, "grid": false}},
  "y": {"field": "obs", "type": "quantitative", "scale": {"domain": [0, 100], "nice": false, "zero": false},
   "axis": {"title": "Intensity (a. u.)", "ticks": false, "labels": false, "domainColor": "#333333", "grid": false, "titleFontSize": 34.5, "titleFontWeight": "bold", "titleColor": "#111111", "titleAngle": -90, "titleBaseline": "alphabetic", "titleAlign": "center", "titleX": -35, "titleY": 201}}
 }},
{"data": {"name": "d"}, "mark": {"type": "point", "filled": true, "size": 18, "opacity": 1, "clip": true},
 "encoding": {"x": {"field": "t", "type": "quantitative"}, "y": {"field": "obs", "type": "quantitative"},
  "fill": {"datum": "Observed", "type": "nominal", "scale": {"domain": ["Observed"], "range": ["#ee0000"]},
   "legend": {"legendX": 309.9, "legendY": 15, "symbolType": "circle", "symbolSize": 22, "symbolStrokeWidth": 0, "labelOffset": 16.4}}}},
{"data": {"name": "d"}, "mark": {"type": "line", "strokeWidth": 1.5, "clip": true},
 "encoding": {"x": {"field": "t", "type": "quantitative"}, "y": {"field": "sim", "type": "quantitative"},
  "stroke": {"datum": "Simulated", "type": "nominal", "scale": {"domain": ["Simulated", "Obs.-Sim."], "range": ["#000000", "#333333"]},
   "legend": {"legendX": 309.75, "legendY": 39, "symbolType": "M-3.9,0L3.9,0", "symbolSize": 100, "symbolStrokeWidth": 1.5, "labelOffset": 16.25}}}},
{"data": {"name": "d_d"}, "mark": {"type": "line", "strokeWidth": 1.8, "color": "#238b84", "clip": true},
 "encoding": {"x": {"field": "t", "type": "quantitative"}, "y": {"field": "d", "type": "quantitative"}}},
{"data": {"name": "d_i"}, "mark": {"type": "rule", "strokeWidth": 1.4, "color": "#0000ff", "clip": true},
 "encoding": {"x": {"field": "t", "type": "quantitative"}, "y": {"datum": 5.5}, "y2": {"datum": 9.2},
  "strokeDash": {"datum": "Index", "type": "nominal", "scale": {"domain": ["Index"], "range": [[1, 0]]},
   "legend": {"legendX": 309.75, "legendY": 85, "symbolType": "M0,-1L0,1", "symbolSize": 100, "symbolStrokeWidth": 1, "symbolStrokeColor": "#222266", "labelOffset": 16.25}}}},
{"data": {"values": [{}]}, "mark": {"type": "rule", "color": "#555555", "strokeWidth": 1}, "encoding": {"y": {"datum": 100}}},
{"data": {"values": [{"f": "K₃Cr₃(PO₄)₄"}]}, "mark": {"type": "text", "fontSize": 24, "fontWeight": "bold", "align": "center", "baseline": "alphabetic", "color": "#111111"},
 "encoding": {"x": {"datum": 37.9}, "y": {"datum": 87.3}, "text": {"field": "f"}}},
{"data": {"values": [{}]}, "mark": {"type": "text", "fontSize": 16, "align": "left", "baseline": "alphabetic", "lineHeight": 22.3, "color": "#222222", "clip": true},
 "encoding": {"x": {"datum": 59.44}, "y": {"datum": 50.8}, "text": {"value": ["a: 10.486(6) Å", "b: 20.50(1) Å", "c: 6.391(3) Å", "V: 1374.16 Å³"]}}}
]
}
]
}
